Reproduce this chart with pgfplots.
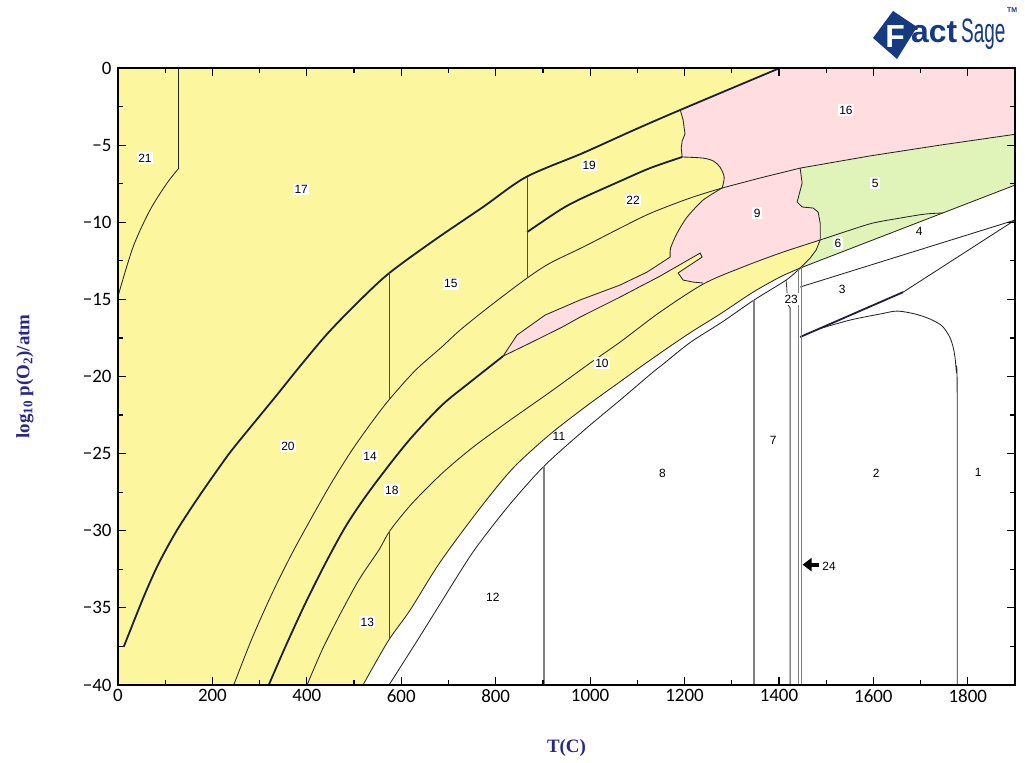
\documentclass[border=0pt]{standalone}
\usepackage{pgfplots}
\pgfplotsset{compat=1.18}
\usepackage{fontspec}
\usepackage{graphicx}
\setmainfont{Liberation Serif}
\newfontfamily\labfont{Liberation Sans}
\newfontfamily\tickfont{Carlito}
\usetikzlibrary{arrows.meta}

\definecolor{yel}{RGB}{252,246,158}
\definecolor{pnk}{RGB}{255,221,224}
\definecolor{grn}{RGB}{224,244,186}
\definecolor{navy}{RGB}{40,40,140}
\definecolor{logoblue}{RGB}{22,58,128}
\definecolor{dark}{RGB}{30,30,55}

\tikzset{
  thinline/.style={black!85, line width=0.85bp},
  thickline/.style={dark, line width=1.8bp},
  grayline/.style={black!50, line width=1.3bp},
  lab/.style={font=\labfont\fontsize{12}{12}\selectfont, fill=white, inner sep=1.5bp},
  labw/.style={font=\labfont\fontsize{12}{12}\selectfont, inner sep=1bp},
}

\begin{document}
\begin{tikzpicture}[x=1bp,y=1bp]
\path[use as bounding box] (-118,-78) rectangle (907,685);
\begin{axis}[
  at={(0,0)}, anchor=south west,
  scale only axis, width=897bp, height=617bp,
  xmin=0, xmax=1900, ymin=-40, ymax=0,
  axis background/.style={fill=yel},
  axis on top,
  axis line style={line width=1.6bp},
  xtick={0,200,400,600,800,1000,1200,1400,1600,1800},
  xticklabels={0,200,400,600,800,1000,1200,1400,1600,1800},
  minor x tick num=1,
  ytick={-40,-35,-30,-25,-20,-15,-10,-5,0},
  yticklabels={−40,−35,−30,−25,−20,−15,−10,−5,0},
  minor y tick num=1,
  tick align=inside, tick pos=both,
  xticklabel pos=lower, yticklabel pos=left,
  major tick length=8bp, minor tick length=5bp,
  every tick/.style={black, line width=1.2bp},
  tick label style={font=\tickfont\fontsize{19}{19}\selectfont},
  xticklabel style={yshift=-1bp},
  yticklabel style={xshift=-3bp},
  xlabel={T(C)},
  xlabel style={font=\bfseries\fontsize{19}{19}\selectfont, text=navy,
    at={(axis description cs:0.5,-0.1021)}, anchor=center},
  ylabel={log\textsubscript{10} p(O\textsubscript{2})/atm},
  ylabel style={font=\bfseries\fontsize{19}{19}\selectfont, text=navy,
    at={(axis description cs:-0.1037,0.5)}, anchor=center},
]

% ---- white (solid + liquid low-oxygen) field ----
\addplot[fill=white, draw=none] coordinates {
 (519,-40) (572,-37.16) (618.6,-35.15) (682.2,-32.04) (767,-28.53) (836.8,-25.94)
 (913.1,-23.8) (989.4,-21.98) (1059.3,-20.43) (1127.1,-18.94) (1207.6,-17.25)
 (1275.4,-15.95) (1345.3,-14.53) (1402.5,-13.55) (1444.9,-12.97) (1900,-7.59) (1900,-40)
} -- cycle;

% ---- field 16 ----
\addplot[fill=pnk, draw=none] coordinates {
 (1191,-2.72) (1402,0) (1900,0) (1900,-4.3) (1741.5,-5.0) (1593,-5.7) (1444.9,-6.49)
 (1360.1,-7.13) (1279.6,-7.78) (1284,-7.07) (1275,-6.42) (1261,-6.03) (1239,-5.84)
 (1195,-5.77) (1193,-5.19) (1195,-4.73) (1201,-4.28) (1197,-3.37)
} -- cycle;

% ---- field 9 with the narrow band ----
\addplot[fill=pnk, draw=none] coordinates {
 (1279.6,-7.78) (1360.1,-7.13) (1444.9,-6.49) (1449.1,-7.46) (1438.5,-8.69) (1449.1,-9.01)
 (1472.4,-9.08) (1483,-9.34) (1487.3,-10.05) (1487.3,-11.15) (1402.5,-12.0) (1317.8,-12.97)
 (1239.4,-13.94) (1218.2,-13.88) (1197,-13.75) (1186.4,-13.29) (1205.5,-12.9) (1237.3,-12.26)
 (1233,-12.0) (1148.3,-13.49) (1063.5,-14.85) (978.8,-16.15) (940.7,-16.8) (872.9,-17.83)
 (815.7,-18.68) (845.3,-17.31) (904.6,-16.02) (978.8,-15.04) (1063.5,-14.07) (1120.7,-13.23)
 (1169.5,-12.26) (1169.5,-11.67) (1184.3,-10.7) (1205.5,-9.66) (1239.4,-8.56)
} -- cycle;

% ---- fields 5 and 6 ----
\addplot[fill=grn, draw=none] coordinates {
 (1444.9,-6.49) (1593,-5.7) (1741.5,-5.0) (1900,-4.3) (1900,-7.59) (1444.9,-12.97)
 (1466.1,-12.32) (1478.8,-11.8) (1487.3,-11.15) (1487.3,-10.05) (1483,-9.34) (1472.4,-9.08)
 (1449.1,-9.01) (1438.5,-8.69) (1449.1,-7.46)
} -- cycle;

% ---- phase boundaries ----
% 21 / 17
\addplot[thinline, smooth, tension=0.5] coordinates {(0,-14.8) (32,-11.6) (68,-9.2) (104,-7.46) (129,-6.49)};
\addplot[thinline] coordinates {(129,-6.49) (129,0)};
% main thick boundary
\addplot[thickline, smooth, tension=0.5] coordinates {
 (12.1,-37.53) (54.4,-34.29) (86.2,-32.12) (125,-29.96) (171,-27.80) (220.3,-25.64)
 (248.5,-24.49) (333.3,-21.32) (385.6,-19.33) (442.8,-17.25) (502.1,-15.37) (572,-13.36)
 (667.4,-11.22) (773.3,-9.01) (864.4,-7.07) (985,-5.51) (1093,-4.02) (1191,-2.72) (1402,0)};
% 19 / 22
\addplot[thickline, smooth, tension=0.5] coordinates {(866.5,-10.64) (936,-9.21) (979,-8.50) (1064,-7.33) (1127,-6.49) (1195,-5.77)};
\addplot[thinline, smooth, tension=0.5] coordinates {(1195,-5.77) (1239,-5.84) (1261,-6.03) (1275,-6.42) (1284,-7.07) (1279.6,-7.78)};
% 19 / 16
\addplot[thinline] coordinates {(1191,-2.72) (1197,-3.37) (1201,-4.28) (1195,-4.73) (1193,-5.19) (1195,-5.77)};
% lower edge of 20, 15, 22
\addplot[thinline, smooth, tension=0.5] coordinates {
 (245.1,-40) (283.9,-36.98) (326.3,-34.07) (368.6,-31.47) (411,-29.1) (453.4,-26.83)
 (495.7,-24.77) (538.1,-22.94) (575,-21.48) (630,-19.6) (686.4,-18.07) (724.6,-16.99) (788.1,-15.43)
 (866.5,-13.62) (915.2,-12.65) (985.1,-11.61) (1063.5,-10.38) (1129.2,-9.40) (1211.8,-8.43)
 (1279.6,-7.78)};
% lower edge of 16
\addplot[thinline] coordinates {(1279.6,-7.78) (1360.1,-7.13) (1444.9,-6.49) (1593,-5.7) (1741.5,-5.0) (1900,-4.3)};
% 22 / 9
\addplot[thinline, smooth, tension=0.4] coordinates {(1169.5,-12.26) (1170.5,-11.67) (1184.3,-10.7) (1205.5,-9.66) (1239.4,-8.56) (1279.6,-7.78)};
% 14 / 18
\addplot[thickline, smooth, tension=0.5] coordinates {
 (319.3,-40) (354.4,-37.53) (396.8,-34.71) (439.2,-32.12) (481.6,-29.75) (523.9,-27.8)
 (576.9,-25.64) (622.9,-23.91) (686.4,-21.85) (745.7,-20.37) (815.7,-18.68)};
% narrow band of 9
\addplot[thinline] coordinates {(815.7,-18.68) (845.3,-17.31) (904.6,-16.02) (978.8,-15.04) (1063.5,-14.07) (1120.7,-13.23) (1169.5,-12.26)};
\addplot[thinline] coordinates {
 (815.7,-18.68) (872.9,-17.83) (940.7,-16.8) (978.8,-16.15) (1063.5,-14.85) (1148.3,-13.49)
 (1233,-12.0) (1237.3,-12.26) (1205.5,-12.9) (1186.4,-13.29) (1197,-13.75) (1218.2,-13.88) (1239.4,-13.94)};
% 18 / 10 and 9 / 10, 5 / 6
\addplot[thinline, smooth, tension=0.5] coordinates {
 (400.4,-40) (432.2,-37.74) (467.6,-35.58) (510,-33.2) (552.3,-31.26) (576.9,-29.96)
 (622.9,-28.23) (686.4,-26.28) (752.1,-24.58) (830.5,-22.83) (915.2,-21.01) (1000,-19.13)
 (1063.5,-17.77) (1148.3,-15.82) (1239.4,-14.01) (1317.8,-12.97) (1402.5,-12.0) (1487.3,-11.15)
 (1550.8,-10.51) (1599.5,-10.05) (1656.7,-9.73) (1709.7,-9.47) (1747.8,-9.40)};
% upper edge of 11
\addplot[thinline, smooth, tension=0.5] coordinates {
 (519,-40) (572,-37.16) (618.6,-35.15) (682.2,-32.04) (767,-28.53) (836.8,-25.94)
 (913.1,-23.8) (989.4,-21.98) (1059.3,-20.43) (1127.1,-18.94) (1207.6,-17.25)
 (1275.4,-15.95) (1345.3,-14.53) (1402.5,-13.55) (1444.9,-12.97)};
% lower edge of 11
\addplot[thinline, smooth, tension=0.5] coordinates {
 (574.1,-40) (639.8,-36.83) (730.9,-32.36) (767,-30.74) (830.5,-28.27) (902.5,-25.81)
 (987.3,-23.48) (1063.5,-21.53) (1133.4,-19.71) (1154.6,-19.2) (1211.8,-17.8)
 (1279.6,-16.47) (1347.4,-15.04) (1415.2,-13.75) (1444.9,-12.97)};
% right-hand fields 4, 3, 2
\addplot[thinline] coordinates {(1444.9,-12.97) (1900,-7.59)};
\addplot[thinline] coordinates {(1444.9,-14.2) (1900,-9.86)};
\addplot[thickline] coordinates {(1444.9,-17.44) (1663.1,-14.53)};
\addplot[thinline] coordinates {(1663.1,-14.53) (1900,-9.86)};
\addplot[thinline, smooth, tension=0.5] coordinates {
 (1483,-16.93) (1550.8,-16.34) (1614.4,-15.95) (1650.4,-15.76) (1688.5,-15.95)
 (1720.3,-16.28) (1745.7,-16.73) (1762.7,-17.51) (1771.2,-18.42) (1775.4,-19.58)
 (1777.5,-21.21) (1777.5,-40)};
% 9 / 5 and yellow / 6
\addplot[thinline] coordinates {
 (1444.9,-6.49) (1449.1,-7.46) (1438.5,-8.69) (1449.1,-9.01) (1472.4,-9.08) (1483,-9.34)
 (1487.3,-10.05) (1487.3,-11.15) (1478.8,-11.8) (1466.1,-12.32) (1444.9,-12.97)};
% transitions at fixed temperature
\addplot[thinline, black!70] coordinates {(575,-13.3) (575,-21.48)};
\addplot[thinline, black!70] coordinates {(575,-30.0) (575,-37.05)};
\addplot[thinline, black!70] coordinates {(866.5,-7.07) (866.5,-13.62)};
\addplot[grayline] coordinates {(902.5,-25.81) (902.5,-40)};
\addplot[grayline] coordinates {(1347.4,-15.04) (1347.4,-40)};
\addplot[thinline, black!75] coordinates {(1415.2,-13.75) (1417.3,-14.59) (1413.1,-15.04) (1423.7,-15.56) (1423.7,-16.34) (1423.7,-40)};
\addplot[grayline, line width=1.1bp] coordinates {(1441,-13.0) (1441,-40)};
\addplot[grayline, line width=1.1bp] coordinates {(1448.5,-12.9) (1448.5,-40)};
% marker for field 24
\addplot[black, line width=4bp, -{Triangle[length=9bp,width=13bp]}] coordinates {(1485,-32.2) (1450,-32.2)};

% ---- field numbers ----
\node[lab] at (axis cs:57,-5.84) {21};
\node[lab] at (axis cs:388,-7.9) {17};
\node[lab] at (axis cs:998,-6.29) {19};
\node[lab] at (axis cs:1091,-8.56) {22};
\node[lab] at (axis cs:1542,-2.72) {16};
\node[lab] at (axis cs:1354,-9.40) {9};
\node[lab] at (axis cs:1604,-7.46) {5};
\node[lab] at (axis cs:1525,-11.35) {6};
\node[labw] at (axis cs:1697,-10.57) {4};
\node[labw] at (axis cs:1534,-14.33) {3};
\node[lab] at (axis cs:1426,-14.98) {23};
\node[lab] at (axis cs:705,-14.0) {15};
\node[lab] at (axis cs:1025,-19.13) {10};
\node[labw] at (axis cs:934,-23.86) {11};
\node[labw] at (axis cs:1388,-24.12) {7};
\node[labw] at (axis cs:1153,-26.26) {8};
\node[labw] at (axis cs:1606,-26.26) {2};
\node[labw] at (axis cs:1822,-26.2) {1};
\node[lab] at (axis cs:360,-24.5) {20};
\node[lab] at (axis cs:534,-25.16) {14};
\node[lab] at (axis cs:580,-27.37) {18};
\node[lab] at (axis cs:528,-35.93) {13};
\node[labw] at (axis cs:794,-34.3) {12};
\node[labw] at (axis cs:1506,-32.3) {24};
\end{axis}

% ---- logo ----
\fill[logoblue] (755,647) -- (775,674) -- (799,658) -- (779,626) -- cycle;
\node[text=white, font=\labfont\bfseries\fontsize{32}{32}\selectfont, anchor=base, inner sep=0] at (777,637) {F};
\node[text=logoblue, font=\labfont\bfseries\fontsize{32}{32}\selectfont, anchor=base west, inner sep=0] at (793,642) {act};
\node[text=logoblue, font=\labfont\fontsize{34}{34}\selectfont, anchor=base west, inner sep=0] at (843,642) {\scalebox{0.56}[1]{Sage}};
\node[text=logoblue, font=\labfont\bfseries\fontsize{7}{7}\selectfont, anchor=north west, inner sep=0] at (889,677) {TM};
\end{tikzpicture}
\end{document}
